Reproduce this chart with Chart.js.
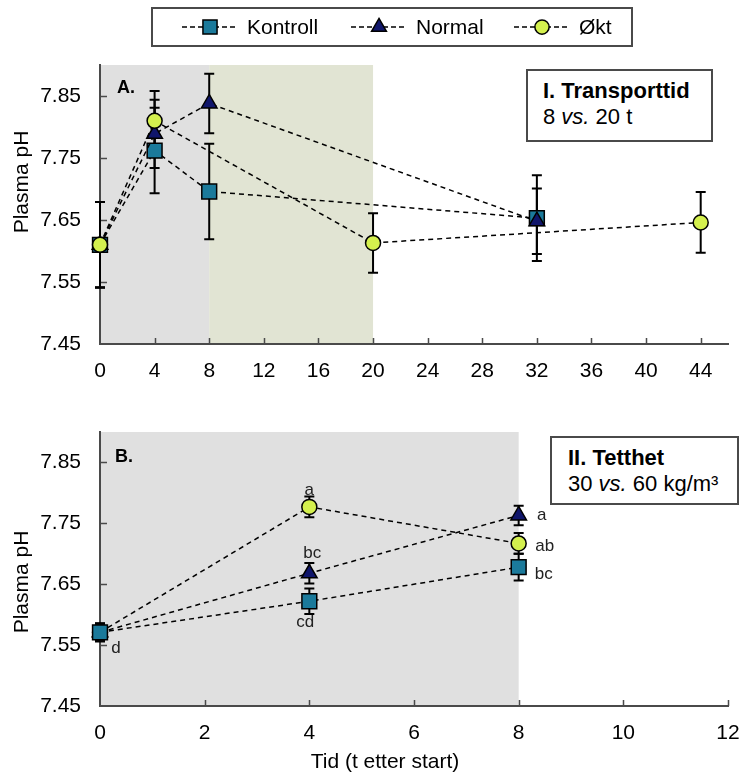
<!DOCTYPE html>
<html lang="no">
<head>
<meta charset="UTF-8">
<title>Plasma pH</title>
<script src="https://cdn.jsdelivr.net/npm/chart.js"></script>
<style>
    body { margin: 0; background: #fff; font-family: "Liberation Sans", Arial, sans-serif; }
    #page { position: relative; width: 745px; height: 775px; overflow: hidden; }
    .panel { position: absolute; left: 0; }
    .txt { position: absolute; white-space: nowrap; color: #000; line-height: 1; }
    .ytitle, .xtitle { font-size: 21px; transform: translate(-50%, -50%); }
    .ytitle { transform: translate(-50%, -50%) rotate(-90deg); }
    .letter { font-size: 18px; font-weight: bold; }
    .box { position: absolute; border: 2px solid #4a4a4a; background: #fff; box-sizing: border-box; }
    .box .txt { font-size: 22px; }
</style>
</head>
<body>
<div id="page">
    <div class="panel" style="top:0"><canvas id="chartA" width="745" height="390"></canvas></div>
    <div class="panel" style="top:400px"><canvas id="chartB" width="745" height="375"></canvas></div>

    <div class="txt ytitle" style="left:20px; top:182px">Plasma pH</div>
    <div class="txt ytitle" style="left:20px; top:582px">Plasma pH</div>
    <div class="txt xtitle" style="left:385px; top:760px">Tid (t etter start)</div>

    <div class="txt letter" style="left:117px; top:78px">A.</div>
    <div class="txt letter" style="left:115px; top:447px">B.</div>

    <div class="box" style="left:526px; top:69px; width:187px; height:73px">
        <div class="txt" style="left:15px; top:9px; font-weight:bold">I. Transporttid</div>
        <div class="txt" style="left:15px; top:35px">8 <i>vs.</i> 20 t</div>
    </div>
    <div class="box" style="left:550px; top:436px; width:189px; height:69px">
        <div class="txt" style="left:16px; top:9px; font-weight:bold">II. Tetthet</div>
        <div class="txt" style="left:16px; top:35px">30 <i>vs.</i> 60 kg/m³</div>
    </div>
</div>

<script>
// ---- data ----
const seriesNames = ['Kontroll', 'Normal', 'Økt'];

// Panel A: transporttid (x = timer)
const xTicksA = [0, 4, 8, 12, 16, 20, 24, 28, 32, 36, 40, 44];
const xA_kontroll = [0, 4, 8, 32];
const yA_kontroll = [7.61, 7.762, 7.696, 7.653];
const eA_kontroll = [0.069, 0.069, 0.077, 0.069];
const xA_normal = [0, 4, 8, 32];
const yA_normal = [7.61, 7.789, 7.838, 7.648];
const eA_normal = [0.069, 0.055, 0.048, 0.053];
const xA_okt = [0, 4, 20, 44];
const yA_okt = [7.61, 7.81, 7.613, 7.646];
const eA_okt = [0.069, 0.048, 0.048, 0.049];
const shadeA = [[0, 8], [8, 20]];

// Panel B: tetthet
const xTicksB = [0, 2, 4, 6, 8, 10, 12];
const xB = [0, 4, 8];
const yB_kontroll = [7.571, 7.622, 7.678];
const eB_kontroll = [0.015, 0.021, 0.022];
const yB_normal = [7.571, 7.668, 7.763];
const eB_normal = [0.014, 0.017, 0.016];
const yB_okt = [7.571, 7.777, 7.717];
const eB_okt = [0.014, 0.017, 0.017];
const lettersB_kontroll = ['d', 'cd', 'bc'];
const lettersB_normal = ['', 'bc', 'a'];
const lettersB_okt = ['', 'a', 'ab'];
const shadeB = [[0, 8]];

const yTicks = [7.45, 7.55, 7.65, 7.75, 7.85];

// ---- styles ----
Chart.defaults.font.family = '"Liberation Sans", Arial, sans-serif';
Chart.defaults.color = '#000';
const AXIS = '#4a4a4a';
const markers = [
    { style: 'rect', radius: 10.5, color: '#1B7A9B' },
    { style: 'triangle', radius: 9, color: '#10166B' },
    { style: 'circle', radius: 7.5, color: '#D4F04E' }
];

function drawMarker(ctx, m, cx, cy, r) {
    ctx.beginPath();
    if (m.style === 'rect') {
        const s = Math.SQRT1_2 * r;
        ctx.rect(cx - s, cy - s, 2 * s, 2 * s);
    } else if (m.style === 'triangle') {
        for (let k = 0; k < 3; k++) {
            const a = -Math.PI / 2 + k * 2 * Math.PI / 3;
            const px = cx + Math.cos(a) * r, py = cy + Math.sin(a) * r;
            k === 0 ? ctx.moveTo(px, py) : ctx.lineTo(px, py);
        }
        ctx.closePath();
    } else {
        ctx.arc(cx, cy, r, 0, Math.PI * 2);
    }
    ctx.fillStyle = m.color;
    ctx.fill();
    ctx.lineWidth = 1.5;
    ctx.strokeStyle = '#000';
    ctx.stroke();
}

// shading, inside tick marks, error bars, letters, legend
const panelPlugin = {
    id: 'panel',
    beforeDraw(chart, args, opts) {
        const { ctx, chartArea: a, scales: { x } } = chart;
        ctx.save();
        opts.shades.forEach((s, i) => {
            const x0 = x.getPixelForValue(s[0]), x1 = x.getPixelForValue(s[1]);
            ctx.fillStyle = opts.shadeColors[i];
            ctx.fillRect(x0, a.top, x1 - x0, a.bottom - a.top);
        });
        ctx.restore();
    },
    beforeDatasetsDraw(chart) {
        const { ctx, chartArea: a, scales: { x, y } } = chart;
        ctx.save();
        ctx.strokeStyle = AXIS;
        ctx.lineWidth = 1.5;
        ctx.beginPath();
        x.ticks.forEach(t => {
            if (t.value === x.min) return;
            const px = Math.round(x.getPixelForValue(t.value)) + 0.5;
            ctx.moveTo(px, a.bottom);
            ctx.lineTo(px, a.bottom - 6);
        });
        y.ticks.forEach(t => {
            if (t.value === y.min) return;
            const py = Math.round(y.getPixelForValue(t.value)) + 0.5;
            ctx.moveTo(a.left, py);
            ctx.lineTo(a.left + 7, py);
        });
        ctx.stroke();

        ctx.strokeStyle = '#000';
        ctx.lineWidth = 2;
        chart.data.datasets.forEach(ds => {
            ds.errors.forEach((e, j) => {
                const p = ds.data[j];
                const px = x.getPixelForValue(p.x);
                const top = y.getPixelForValue(p.y + e), bot = y.getPixelForValue(p.y - e);
                ctx.beginPath();
                ctx.moveTo(px, top); ctx.lineTo(px, bot);
                ctx.moveTo(px - 5, top); ctx.lineTo(px + 5, top);
                ctx.moveTo(px - 5, bot); ctx.lineTo(px + 5, bot);
                ctx.stroke();
            });
        });
        ctx.restore();
    },
    afterDatasetsDraw(chart, args, opts) {
        if (!opts.letterOffsets) return;
        const { ctx, scales: { x, y } } = chart;
        ctx.save();
        ctx.font = '17px "Liberation Sans", Arial, sans-serif';
        ctx.fillStyle = '#222';
        ctx.textAlign = 'center';
        ctx.textBaseline = 'middle';
        chart.data.datasets.forEach((ds, i) => {
            ds.letters.forEach((l, j) => {
                if (!l) return;
                const off = opts.letterOffsets[i][j];
                ctx.fillText(l, x.getPixelForValue(ds.data[j].x) + off[0], y.getPixelForValue(ds.data[j].y) + off[1]);
            });
        });
        ctx.restore();
    },
    afterDraw(chart, args, opts) {
        if (!opts.legend) return;
        const { ctx } = chart;
        const L = opts.legend;
        ctx.save();
        ctx.fillStyle = '#fff';
        ctx.fillRect(L.left, L.top, L.width, L.height);
        ctx.strokeStyle = AXIS;
        ctx.lineWidth = 2;
        ctx.strokeRect(L.left, L.top, L.width, L.height);
        const cy = L.top + L.height / 2;
        chart.data.datasets.forEach((ds, i) => {
            const x0 = L.itemX[i];
            ctx.strokeStyle = '#000';
            ctx.lineWidth = 1.5;
            ctx.setLineDash([5, 3]);
            ctx.beginPath();
            ctx.moveTo(x0, cy); ctx.lineTo(x0 + 56, cy);
            ctx.stroke();
            ctx.setLineDash([]);
            drawMarker(ctx, markers[i], x0 + 28, cy, markers[i].radius * 0.95);
            ctx.fillStyle = '#000';
            ctx.font = '21px "Liberation Sans", Arial, sans-serif';
            ctx.textBaseline = 'middle';
            ctx.fillText(ds.label, x0 + 65, cy + 1);
        });
        ctx.restore();
    }
};

function makeSet(i, xs, ys, errs, order, letters) {
    const m = markers[i];
    return {
        label: seriesNames[i],
        data: xs.map((v, k) => ({ x: v, y: ys[k] })),
        errors: errs,
        letters: letters || [],
        showLine: true,
        borderColor: '#000',
        borderWidth: 1.5,
        borderDash: [5, 4],
        tension: 0,
        pointStyle: m.style,
        pointRadius: m.radius,
        pointHoverRadius: m.radius,
        pointBackgroundColor: m.color,
        backgroundColor: m.color,
        pointBorderColor: '#000',
        pointBorderWidth: 1.5,
        order: order,
        clip: false
    };
}

function scales(xMax, xTicks, xHeight) {
    return {
        x: {
            type: 'linear', min: 0, max: xMax,
            afterBuildTicks: s => { s.ticks = xTicks.map(v => ({ value: v })); },
            afterFit: s => { s.height = xHeight; s.paddingLeft = 0; s.paddingRight = 0; },
            grid: { display: false, drawTicks: false, tickLength: 0 },
            border: { display: true, color: AXIS, width: 2 },
            ticks: { font: { size: 21 }, padding: 15, maxRotation: 0, autoSkip: false }
        },
        y: {
            type: 'linear', min: 7.45, max: 7.9,
            afterBuildTicks: s => { s.ticks = yTicks.map(v => ({ value: v })); },
            afterFit: s => { s.width = 100; s.paddingTop = 0; s.paddingBottom = 0; },
            grid: { display: false, drawTicks: false, tickLength: 0 },
            border: { display: true, color: AXIS, width: 2 },
            ticks: { font: { size: 21 }, padding: 19, autoSkip: false, callback: v => v.toFixed(2) }
        }
    };
}

new Chart(document.getElementById('chartA'), {
    type: 'scatter',
    data: {
        datasets: [
            makeSet(0, xA_kontroll, yA_kontroll, eA_kontroll, 2),
            makeSet(1, xA_normal, yA_normal, eA_normal, 1),
            makeSet(2, xA_okt, yA_okt, eA_okt, 0)
        ]
    },
    options: {
        responsive: false,
        animation: false,
        layout: { padding: { top: 65, right: 17, left: 0, bottom: 0 } },
        scales: scales(46, xTicksA, 46),
        plugins: {
            legend: { display: false },
            tooltip: { enabled: false },
            panel: {
                shades: shadeA,
                shadeColors: ['#E0E0E0', '#E1E4D3'],
                legend: { left: 152, top: 8, width: 480, height: 38, itemX: [182, 351, 514] }
            }
        }
    },
    plugins: [panelPlugin]
});

new Chart(document.getElementById('chartB'), {
    type: 'scatter',
    data: {
        datasets: [
            makeSet(0, xB, yB_kontroll, eB_kontroll, 0, lettersB_kontroll),
            makeSet(1, xB, yB_normal, eB_normal, 1, lettersB_normal),
            makeSet(2, xB, yB_okt, eB_okt, 2, lettersB_okt)
        ]
    },
    options: {
        responsive: false,
        animation: false,
        layout: { padding: { top: 32, right: 17, left: 0, bottom: 0 } },
        scales: scales(12, xTicksB, 69),
        plugins: {
            legend: { display: false },
            tooltip: { enabled: false },
            panel: {
                shades: shadeB,
                shadeColors: ['#E0E0E0'],
                letterOffsets: [
                    [[16, 16], [-4, 21], [25, 7]],
                    [[0, 0], [3, -20], [23, 0]],
                    [[0, 0], [0, -17], [26, 3]]
                ]
            }
        }
    },
    plugins: [panelPlugin]
});
</script>
</body>
</html>
